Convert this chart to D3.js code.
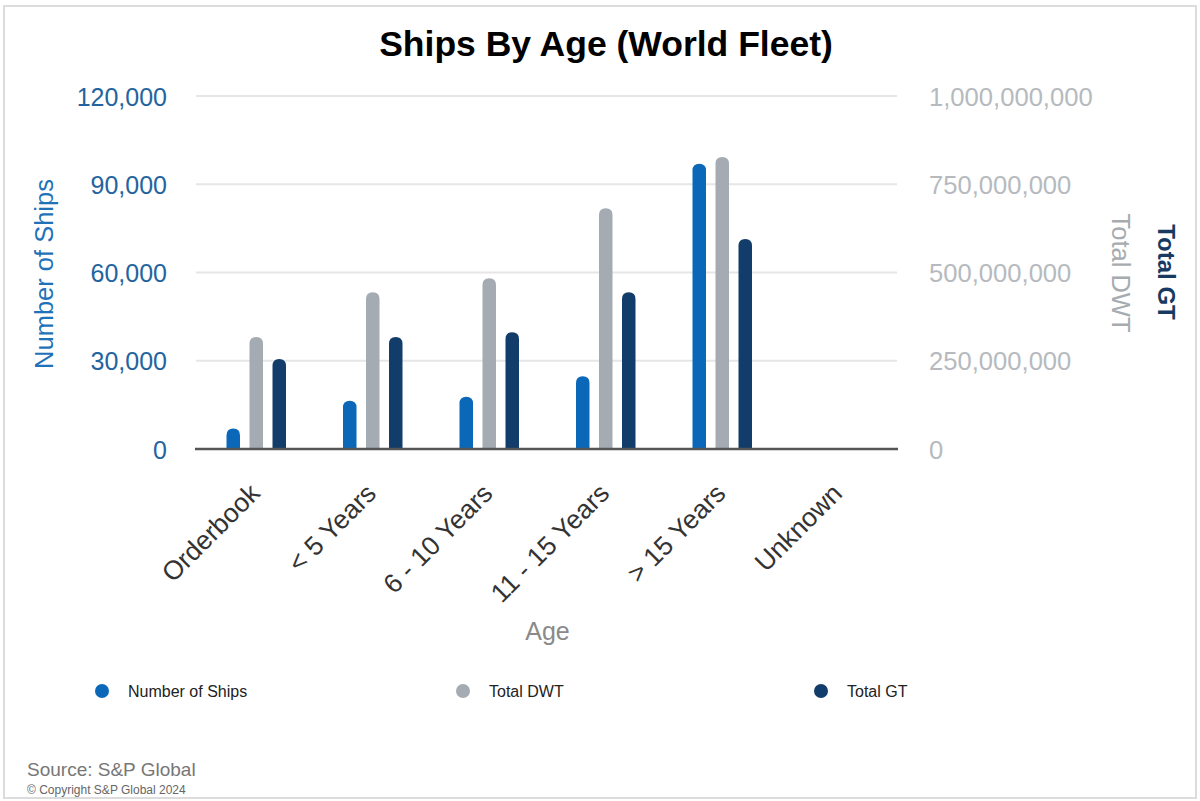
<!DOCTYPE html>
<html>
<head>
<meta charset="utf-8">
<script src="https://cdn.jsdelivr.net/npm/d3@7"></script>
<style>
  html, body { margin: 0; padding: 0; background: #ffffff; }
  svg { display: block; font-family: "Liberation Sans", Arial, sans-serif; }
</style>
</head>
<body>
<svg id="chart" width="1200" height="801"></svg>
<script>
// Fleet composition by age band
const categories = ["Orderbook", "< 5 Years", "6 - 10 Years", "11 - 15 Years", "> 15 Years", "Unknown"];
const numberOfShips = [7000, 16400, 17800, 24700, 97000, 0];
const totalDWT = [317e6, 444e6, 484e6, 682e6, 827e6, 0];
const totalGT = [255e6, 317e6, 331e6, 444e6, 595e6, 0];

const leftTicks = [0, 30000, 60000, 90000, 120000];
const rightTicks = [0, 250e6, 500e6, 750e6, 1e9];

const seriesNames = ["Number of Ships", "Total DWT", "Total GT"];
const seriesColors = ["#0b68b8", "#a4abb2", "#123c69"];

const svg = d3.select("#chart");
const W = 1200, H = 801;
const plot = { left: 198, right: 897, top: 96, bottom: 449 };

// outer frame
svg.append("rect").attr("x", 4).attr("y", 6).attr("width", W - 8).attr("height", H - 9)
  .attr("fill", "#ffffff").attr("stroke", "#dcdcdc").attr("stroke-width", 2);

// scales
const x0 = d3.scaleBand().domain(categories).range([plot.left, plot.right]);
const x1 = d3.scaleBand().domain(seriesNames).range([-29.75, 29.75]).paddingInner(0.413);
const yLeft = d3.scaleLinear().domain([0, 120000]).range([plot.bottom, plot.top]);
const yRight = d3.scaleLinear().domain([0, 1e9]).range([plot.bottom, plot.top]);
const fmt = d3.format(",");

// title
svg.append("text").attr("x", 606).attr("y", 56).attr("text-anchor", "middle")
  .attr("font-size", 35.5).attr("font-weight", "bold").attr("fill", "#000")
  .text("Ships By Age (World Fleet)");

// gridlines
svg.append("g").selectAll("line").data(leftTicks.slice(1)).join("line")
  .attr("x1", plot.left - 2).attr("x2", plot.right)
  .attr("y1", d => yLeft(d)).attr("y2", d => yLeft(d))
  .attr("stroke", "#e6e6e6").attr("stroke-width", 2);

// left axis
const leftAxis = svg.append("g").attr("transform", `translate(${plot.left - 31},0)`)
  .call(d3.axisLeft(yLeft).tickValues(leftTicks).tickFormat(fmt).tickSize(0).tickPadding(0));
leftAxis.select(".domain").remove();
leftAxis.selectAll("text").attr("font-size", 25).attr("fill", "#2364a0")
  .attr("font-family", "Liberation Sans, Arial, sans-serif").attr("dy", "0.36em");

// right axis
const rightAxis = svg.append("g").attr("transform", `translate(${plot.right + 32},0)`)
  .call(d3.axisRight(yRight).tickValues(rightTicks).tickFormat(fmt).tickSize(0).tickPadding(0));
rightAxis.select(".domain").remove();
rightAxis.selectAll("text").attr("font-size", 25.6).attr("fill", "#b6babe")
  .attr("font-family", "Liberation Sans, Arial, sans-serif").attr("dy", "0.36em");

// axis titles
svg.append("text").attr("transform", "translate(53,274) rotate(-90)")
  .attr("text-anchor", "middle").attr("font-size", 25.5).attr("fill", "#1f72b8")
  .text("Number of Ships");
svg.append("text").attr("transform", "translate(1112,273) rotate(90)")
  .attr("text-anchor", "middle").attr("font-size", 25.5).attr("fill", "#a6abb0")
  .text("Total DWT");
svg.append("text").attr("transform", "translate(1158,272) rotate(90)")
  .attr("text-anchor", "middle").attr("font-size", 24).attr("font-weight", "bold").attr("fill", "#173a62")
  .text("Total GT");

// bars with rounded tops
function barPath(x, w, yTop, yBase) {
  const h = yBase - yTop;
  if (h <= 0) return "";
  const r = Math.min(w / 2, h);
  return `M${x},${yBase} L${x},${yTop + r} Q${x},${yTop} ${x + r},${yTop} ` +
         `L${x + w - r},${yTop} Q${x + w},${yTop} ${x + w},${yTop + r} L${x + w},${yBase} Z`;
}

const rows = categories.map((c, i) => ({
  cat: c,
  vals: [
    { s: seriesNames[0], y: yLeft(numberOfShips[i]) },
    { s: seriesNames[1], y: yRight(totalDWT[i]) },
    { s: seriesNames[2], y: yRight(totalGT[i]) }
  ]
}));

const groups = svg.append("g").selectAll("g").data(rows).join("g")
  .attr("transform", d => `translate(${x0(d.cat) + x0.bandwidth() / 2},0)`);
groups.selectAll("path").data(d => d.vals).join("path")
  .attr("d", d => barPath(x1(d.s), x1.bandwidth(), d.y, plot.bottom))
  .attr("fill", (d, i) => seriesColors[i]);

// baseline
svg.append("line").attr("x1", plot.left - 3).attr("x2", plot.right + 1)
  .attr("y1", plot.bottom).attr("y2", plot.bottom)
  .attr("stroke", "#555555").attr("stroke-width", 2.5);

// category labels
const xAxis = svg.append("g").attr("transform", `translate(0,${plot.bottom})`)
  .call(d3.axisBottom(x0).tickSize(0).tickPadding(0));
xAxis.select(".domain").remove();
xAxis.selectAll("text")
  .attr("font-size", 26.5).attr("fill", "#333333")
  .attr("font-family", "Liberation Sans, Arial, sans-serif")
  .attr("text-anchor", "end").attr("dy", 0)
  .attr("transform", "translate(5,46) rotate(-45)");

// x axis title
svg.append("text").attr("x", (plot.left + plot.right) / 2).attr("y", 640)
  .attr("text-anchor", "middle").attr("font-size", 25).attr("fill", "#8a8a8a")
  .text("Age");

// legend
const legendX = [102, 463, 821];
const legend = svg.append("g").selectAll("g").data(seriesNames).join("g")
  .attr("transform", (d, i) => `translate(${legendX[i]},691)`);
legend.append("circle").attr("r", 7).attr("fill", (d, i) => seriesColors[i]);
legend.append("text").attr("x", 26).attr("y", 6).attr("font-size", 16).attr("fill", "#222")
  .text(d => d);

// source notes
svg.append("text").attr("x", 27).attr("y", 776).attr("font-size", 19).attr("fill", "#777777")
  .text("Source: S&P Global");
svg.append("text").attr("x", 27).attr("y", 794).attr("font-size", 12).attr("fill", "#666666")
  .text("© Copyright S&P Global 2024");
</script>
</body>
</html>
